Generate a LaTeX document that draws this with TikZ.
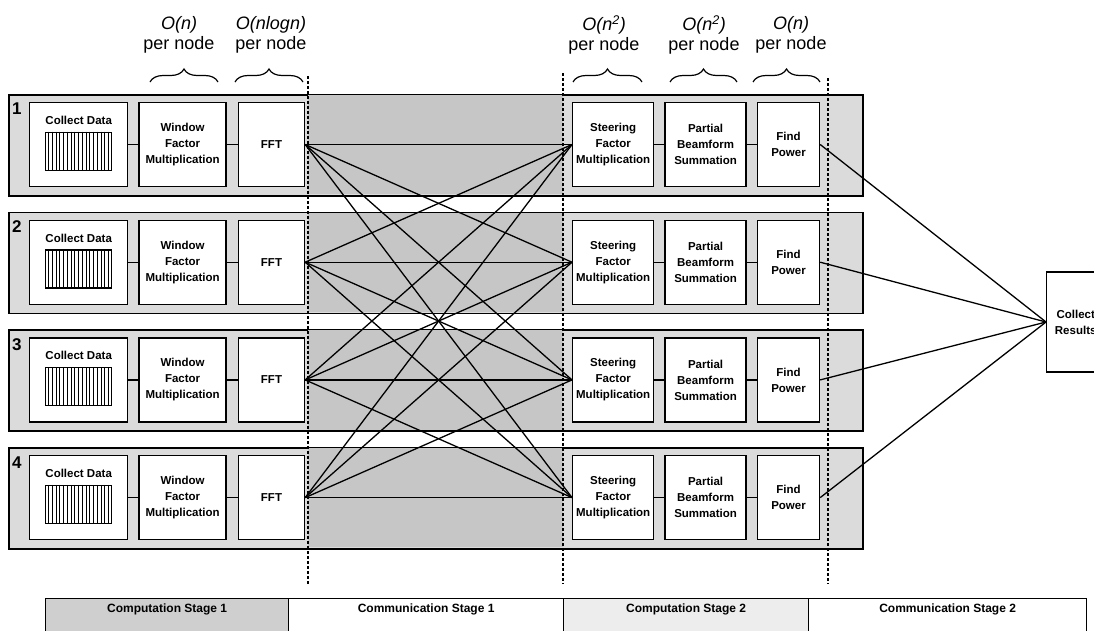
\documentclass[tikz,border=0pt]{standalone}
\usepackage{fontspec}
\setmainfont{Liberation Sans}
\usetikzlibrary{calc,positioning,decorations.pathreplacing}

\begin{document}
\begin{tikzpicture}[x=1pt, y=-1pt,
        band/.style={draw, line width=1.6pt, fill=gray!28, anchor=north west, minimum width=854pt, minimum height=101pt, inner sep=0pt},
        box/.style={draw, rectangle, line width=1.4pt, fill=white, align=center, minimum height=84pt, inner sep=1pt, font=\bfseries\fontsize{11.5}{16}\selectfont},
        datbox/.style={draw, line width=1.4pt, fill=white, minimum width=66pt, minimum height=38pt, inner sep=0pt},
        link/.style={line width=1.3pt},
        sep/.style={line width=1.2pt, dash pattern=on 3pt off 2pt},
        brc/.style={decorate, decoration={brace, amplitude=13pt}, line width=1.2pt},
        cplx/.style={align=center, font=\fontsize{18}{20.5}\selectfont},
        leg/.style={draw, line width=1.2pt, minimum height=60pt, inner sep=0pt, anchor=north west},
        legtxt/.style={font=\bfseries\fontsize{12}{14}\selectfont}
    ]
        \clip (0,0) rectangle (1094,630);
        \useasboundingbox (0,0) rectangle (1094,630);

        % Rows
        \foreach \i in {1,...,4} {
            \pgfmathsetmacro{\t}{94+117.7*(\i-1)}
            \pgfmathsetmacro{\c}{\t+50.5}
            \node[band] (band\i) at (8,\t) {};
            \fill[gray!45] (308,\t+0.8) rectangle (563,\t+100.2);
            \node[font=\bfseries\fontsize{17}{17}\selectfont, anchor=north west, inner sep=0pt] (num\i) at (12,\t+9) {\i};

            \node[box, minimum width=98pt, anchor=west] (col\i) at (29,\c) {};
            \node[font=\bfseries\fontsize{11.5}{13}\selectfont, below=13pt of col\i.north, inner sep=1pt] (ct\i) {Collect Data};
            \node[datbox, below=6pt of ct\i] (dat\i) {};
            \foreach \k in {1,...,17}
                \draw[line width=1pt] ($(dat\i.north west)!\k/18!(dat\i.north east)$) -- ($(dat\i.south west)!\k/18!(dat\i.south east)$);
            \node[box, minimum width=87pt, right=10pt of col\i] (win\i) {Window\\Factor\\Multiplication};
            \node[box, minimum width=66pt, right=11pt of win\i] (fft\i) {FFT};

            \node[box, minimum width=81pt, anchor=west] (str\i) at (572,\c) {Steering\\Factor\\Multiplication};
            \node[box, minimum width=81pt, right=10pt of str\i] (sum\i) {Partial\\Beamform\\Summation};
            \node[box, minimum width=62pt, right=10pt of sum\i] (pow\i) {Find\\Power};

            \draw[link] (col\i) -- (win\i);
            \draw[link] (win\i) -- (fft\i);
            \draw[link] (str\i) -- (sum\i);
            \draw[link] (sum\i) -- (pow\i);
        }

        \node[box, minimum width=58pt, minimum height=100pt, anchor=west] (res) at (1046,322) {Collect\\Results};

        % Links
        \foreach \i in {1,...,4} {
            \foreach \j in {1,...,4}
                \draw[link] (fft\i.east) -- (str\j.west);
            \draw[link] (pow\i.east) -- (res.west);
        }

        % Stage borders
        \draw[sep] (308,76) -- (308,584);
        \draw[sep] (563,73) -- (563,584);
        \draw[sep] (828,78) -- (828,584);

        % Costs
        \draw[brc] (150,82) -- (218,82);
        \draw[brc] (235,82) -- (303,82);
        \draw[brc] (573,82) -- (642,82);
        \draw[brc] (670,82) -- (737,82);
        \draw[brc] (753,82) -- (820,82);
        \node[cplx] (cx1) at (179,35) {\textit{O(n)}\\per node};
        \node[cplx] (cx2) at (271,35) {\textit{O(nlogn)}\\per node};
        \node[cplx] (cx3) at (604,35) {\textit{O(n\textsuperscript{2})}\\per node};
        \node[cplx] (cx4) at (704,35) {\textit{O(n\textsuperscript{2})}\\per node};
        \node[cplx] (cx5) at (791,35) {\textit{O(n)}\\per node};

        % Legend
        \node[leg, fill=gray!38, minimum width=243pt, label={[legtxt, anchor=north, yshift=-2pt]north:Computation Stage 1}] (leg1) at (45,598) {};
        \node[leg, fill=white, minimum width=275pt, label={[legtxt, anchor=north, yshift=-2pt]north:Communication Stage 1}] (leg2) at (288,598) {};
        \node[leg, fill=gray!14, minimum width=245pt, label={[legtxt, anchor=north, yshift=-2pt]north:Computation Stage 2}] (leg3) at (563,598) {};
        \node[leg, fill=white, minimum width=278pt, label={[legtxt, anchor=north, yshift=-2pt]north:Communication Stage 2}] (leg4) at (808,598) {};
    \end{tikzpicture}
\end{document}
